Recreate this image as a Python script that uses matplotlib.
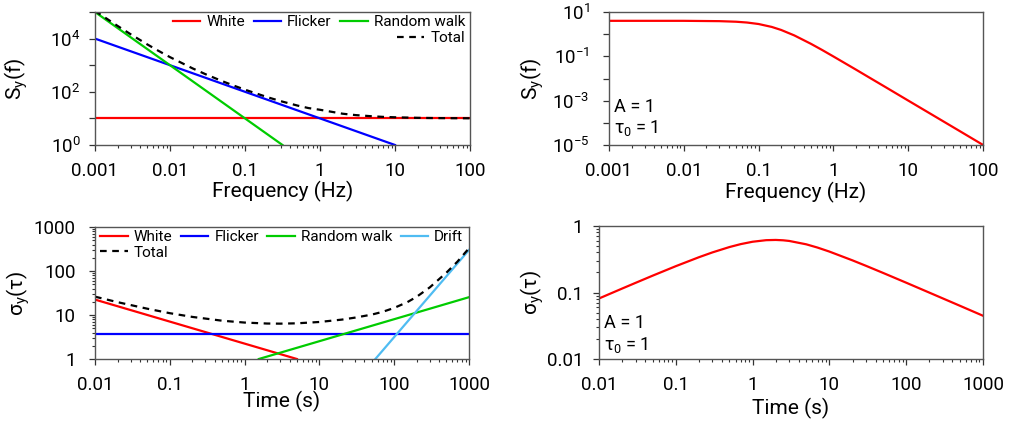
import numpy as np
import matplotlib
matplotlib.use("Agg")
import matplotlib.pyplot as plt
from matplotlib.lines import Line2D

plt.rcParams["font.family"] = ["Roboto", "DejaVu Sans"]
plt.rcParams["mathtext.fontset"] = "custom"
plt.rcParams["mathtext.rm"] = "Roboto"
plt.rcParams["mathtext.it"] = "Roboto:italic"
plt.rcParams["mathtext.bf"] = "Roboto:bold"

# ---- data ----
# top left: power spectral density components
psd_white_f = [0.001, 100]
psd_white = [10, 10]
psd_flicker_f = [0.001, 10]
psd_flicker = [1e4, 1]
psd_rw_f = [0.001, 0.316]
psd_rw = [1e5, 1]
psd_total_f = [0.001, 0.002, 0.003, 0.005, 0.007, 0.01, 0.02, 0.03, 0.05, 0.07,
               0.1, 0.2, 0.3, 0.5, 0.7, 1, 2, 3, 5, 7, 10, 20, 30, 50, 100]
psd_total = [110010, 30010, 14454, 6010, 3480, 2010, 760, 454, 250, 173,
             120, 62.5, 44.4, 30.4, 24.5, 21.1, 15.0, 13.3, 12.0, 11.4, 11.0,
             10.5, 10.33, 10.2, 10.1]

# top right: single correlated process spectrum
lor_f = [0.001, 0.01, 0.03, 0.05, 0.07, 0.1, 0.15, 0.2, 0.3, 0.5, 0.7, 1,
         2, 3, 5, 10, 20, 50, 100]
lor_s = [4.0, 3.997, 3.863, 3.64, 3.35, 2.87, 2.12, 1.55, 0.879, 0.368, 0.197,
         0.0987, 0.0252, 0.0112, 0.00405, 0.00101, 2.53e-4, 4.05e-5, 1.01e-5]

# bottom left: Allan deviation components
adev_white_t = [0.01, 5]
adev_white = [22.4, 1]
adev_flicker_t = [0.01, 1000]
adev_flicker = [3.7, 3.7]
adev_rw_t = [1.55, 1000]
adev_rw = [1, 25.4]
adev_drift_t = [56, 1000]
adev_drift = [1, 300]
adev_total_t = [0.01, 0.02, 0.05, 0.1, 0.2, 0.5, 1, 2, 3, 5, 10, 20, 30, 50,
                70, 100, 150, 200, 300, 500, 700, 1000]
adev_total = [26.1, 19.6, 13.9, 11.0, 9.05, 7.42, 6.73, 6.40, 6.36, 6.47, 6.94,
              7.86, 8.72, 10.2, 11.8, 14.5, 19.6, 26.0, 42.6, 92.0, 163, 329]

# bottom right: Allan deviation of the correlated process
cor_t = [0.01, 0.02, 0.03, 0.05, 0.1, 0.2, 0.3, 0.5, 0.7, 1, 1.5, 2, 2.5, 3,
         5, 7, 10, 20, 30, 50, 100, 200, 500, 1000]
cor_adev = [0.0813, 0.1146, 0.1398, 0.1792, 0.2488, 0.3392, 0.4009, 0.4827,
            0.5340, 0.5798, 0.6120, 0.6171, 0.6095, 0.5960, 0.5302, 0.4739,
            0.4123, 0.3041, 0.2517, 0.1970, 0.1404, 0.0996, 0.0632, 0.0447]

freq_ticks = [0.001, 0.01, 0.1, 1, 10, 100]
freq_labels = ["0.001", "0.01", "0.1", "1", "10", "100"]
time_ticks = [0.01, 0.1, 1, 10, 100, 1000]
time_labels = ["0.01", "0.1", "1", "10", "100", "1000"]

RED = "#ff0000"
BLUE = "#0000ff"
GREEN = "#00cc00"
SKY = "#4fbcf2"
LW = 1.6
LABEL_SIZE = 15

W, H = 1015, 422
fig = plt.figure(figsize=(W / 100, H / 100), dpi=100)


def px_axes(left, top, right, bottom):
    return fig.add_axes([left / W, 1 - bottom / H, (right - left) / W, (bottom - top) / H])


def minor_log(lo_exp, hi_exp):
    return [m * 10.0 ** e for e in range(lo_exp, hi_exp) for m in range(2, 10)]


def style(ax, ypad):
    for sp in ax.spines.values():
        sp.set_color("#555555")
        sp.set_linewidth(1.0)
    ax.tick_params(which="major", length=4, width=0.9, color="#333333", labelsize=13.5)
    ax.tick_params(which="minor", length=2, width=0.8, color="#333333")
    ax.tick_params(axis="x", which="major", pad=8)
    ax.tick_params(axis="y", which="major", pad=ypad)


def note(ax, y1, y2):
    ax.text(0.013, y1, "A = 1", transform=ax.transAxes, fontsize=13, va="baseline")
    ax.text(0.013, y2, r"$\mathregular{τ_0}$ = 1", transform=ax.transAxes,
            fontsize=13, va="baseline")


dash = (0, (3, 2.5))

# ---- top left ----
ax1 = px_axes(95, 12, 470, 145)
ax1.set_xscale("log")
ax1.set_yscale("log")
l_w, = ax1.plot(psd_white_f, psd_white, color=RED, lw=LW, label="White")
l_f, = ax1.plot(psd_flicker_f, psd_flicker, color=BLUE, lw=LW, label="Flicker")
l_r, = ax1.plot(psd_rw_f, psd_rw, color=GREEN, lw=LW, label="Random walk")
l_t, = ax1.plot(psd_total_f, psd_total, color="black", lw=LW, ls=dash, label="Total")
ax1.set_xlim(0.001, 100)
ax1.set_ylim(1, 1e5)
ax1.set_xticks(freq_ticks, freq_labels)
ax1.set_xticks(minor_log(-3, 2), minor=True)
ax1.set_yticks([1, 10, 100, 1e3, 1e4, 1e5],
               [r"$\mathregular{10^0}$", "", r"$\mathregular{10^2}$", "",
                r"$\mathregular{10^4}$", ""])
ax1.set_yticks([], minor=True)
style(ax1, 6.5)
ax1.set_xlabel("Frequency (Hz)", fontsize=LABEL_SIZE, va="center")
ax1.set_ylabel(r"$\mathregular{S_y(f)}$", fontsize=LABEL_SIZE, va="center")
ax1.xaxis.set_label_coords(0.5, -0.35)
ax1.yaxis.set_label_coords(-0.21, 0.5)
leg_kw = dict(frameon=False, fontsize=11, borderpad=0, borderaxespad=0,
              handlelength=1.8, handletextpad=0.4, columnspacing=0.55, labelspacing=0.1)
lg1 = ax1.legend([l_w, l_f, l_r], ["White", "Flicker", "Random walk"], ncol=3,
                 loc="upper right", bbox_to_anchor=(1 - 5 / 375, 1 - 3 / 133), **leg_kw)
ax1.add_artist(lg1)
ax1.legend([l_t], ["Total"], loc="upper right",
           bbox_to_anchor=(1 - 5 / 375, 1 - 19 / 133), **leg_kw)

# ---- top right ----
ax2 = px_axes(609, 12, 983, 145)
ax2.set_xscale("log")
ax2.set_yscale("log")
ax2.plot(lor_f, lor_s, color=RED, lw=LW)
ax2.set_xlim(0.001, 100)
ax2.set_ylim(1e-5, 10)
ax2.set_xticks(freq_ticks, freq_labels)
ax2.set_xticks(minor_log(-3, 2), minor=True)
ax2.set_yticks([1e-5, 1e-4, 1e-3, 1e-2, 1e-1, 1, 10],
               [r"$\mathregular{10^{-5}}$", "", r"$\mathregular{10^{-3}}$", "",
                r"$\mathregular{10^{-1}}$", "", r"$\mathregular{10^1}$"])
ax2.set_yticks([], minor=True)
style(ax2, 10)
ax2.set_xlabel("Frequency (Hz)", fontsize=LABEL_SIZE, va="center")
ax2.set_ylabel(r"$\mathregular{S_y(f)}$", fontsize=LABEL_SIZE, va="center")
ax2.xaxis.set_label_coords(0.5, -0.36)
ax2.yaxis.set_label_coords(-0.205, 0.5)
note(ax2, 0.248, 0.09)

# ---- bottom left ----
ax3 = px_axes(95, 227, 469, 359)
ax3.set_xscale("log")
ax3.set_yscale("log")
b_w, = ax3.plot(adev_white_t, adev_white, color=RED, lw=LW)
b_f, = ax3.plot(adev_flicker_t, adev_flicker, color=BLUE, lw=LW)
b_r, = ax3.plot(adev_rw_t, adev_rw, color=GREEN, lw=LW)
b_d, = ax3.plot(adev_drift_t, adev_drift, color=SKY, lw=LW)
b_t, = ax3.plot(adev_total_t, adev_total, color="black", lw=LW, ls=dash)
ax3.set_xlim(0.01, 1000)
ax3.set_ylim(1, 1000)
ax3.set_xticks(time_ticks, time_labels)
ax3.set_xticks(minor_log(-2, 3), minor=True)
ax3.set_yticks([1, 10, 100, 1000], ["1", "10", "100", "1000"])
ax3.set_yticks(minor_log(0, 3), minor=True)
style(ax3, 10)
ax3.set_xlabel("Time (s)", fontsize=LABEL_SIZE, va="center")
ax3.set_ylabel(r"$\mathregular{σ_y(τ)}$", fontsize=LABEL_SIZE, va="center")
ax3.xaxis.set_label_coords(0.5, -0.325)
ax3.yaxis.set_label_coords(-0.205, 0.5)
blank = Line2D([], [], alpha=0)
ax3.legend([b_w, b_t, b_f, blank, b_r, blank, b_d, blank],
           ["White", "Total", "Flicker", "", "Random walk", "", "Drift", ""],
           ncol=4, loc="upper left", bbox_to_anchor=(5 / 374, 1 - 3 / 132), **leg_kw)

# ---- bottom right ----
ax4 = px_axes(599, 226, 983, 359)
ax4.set_xscale("log")
ax4.set_yscale("log")
ax4.plot(cor_t, cor_adev, color=RED, lw=LW)
ax4.set_xlim(0.01, 1000)
ax4.set_ylim(0.01, 1)
ax4.set_xticks(time_ticks, time_labels)
ax4.set_xticks(minor_log(-2, 3), minor=True)
ax4.set_yticks([0.01, 0.1, 1], ["0.01", "0.1", "1"])
ax4.set_yticks(minor_log(-2, 0), minor=True)
style(ax4, 7.5)
ax4.set_xlabel("Time (s)", fontsize=LABEL_SIZE, va="center")
ax4.set_ylabel(r"$\mathregular{σ_y(τ)}$", fontsize=LABEL_SIZE, va="center")
ax4.xaxis.set_label_coords(0.5, -0.37)
ax4.yaxis.set_label_coords(-0.175, 0.5)
note(ax4, 0.231, 0.068)

fig.savefig("out.png", dpi=100)
